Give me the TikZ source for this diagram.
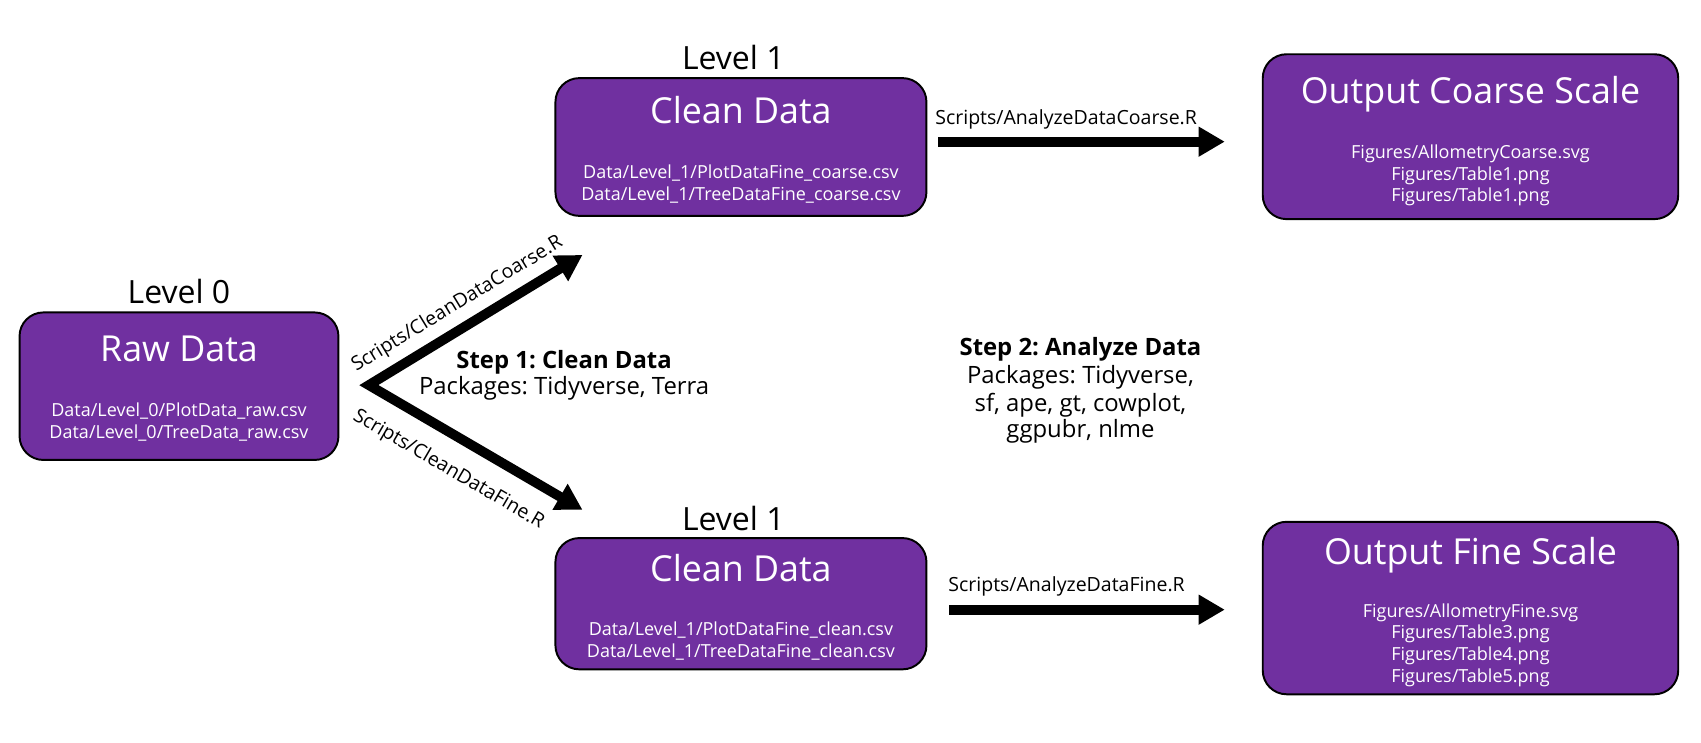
\documentclass[tikz,border=0pt]{standalone}
\usepackage{fontspec}
\setmainfont{Open Sans}
\usetikzlibrary{arrows.meta}
\definecolor{boxpurple}{HTML}{7030A0}
\frenchspacing
\begin{document}
\begin{tikzpicture}[x=1pt,y=-1pt,
  box/.style={draw=black, line width=1.8pt, fill=boxpurple, rounded corners=22pt, inner sep=0pt},
  boxtitle/.style={anchor=base, text=white, font=\fontsize{33}{33}\selectfont, inner sep=0pt},
  files/.style={anchor=base, text=white, font=\fontsize{16.6}{16.6}\selectfont, inner sep=0pt},
  levellabel/.style={anchor=base, font=\fontsize{29.5}{29.5}\selectfont, inner sep=0pt},
  steptext/.style={anchor=base, font=\fontsize{22}{22}\selectfont, inner sep=0pt},
  scriptlabel/.style={font=\fontsize{18}{18}\selectfont, inner sep=0pt},
  bigarrow/.style={line width=9pt, -{Triangle[length=24pt,width=26pt]}},
]
\useasboundingbox (0,0) rectangle (1568,684);

% boxes
\node[box, minimum width=294pt, minimum height=136pt] (raw) at (165,356) {};
\node[box, minimum width=342pt, minimum height=127pt] (cleanc) at (683,135.5) {};
\node[box, minimum width=342pt, minimum height=121pt] (cleanf) at (683,556.5) {};
\node[box, minimum width=383pt, minimum height=152pt] (outc) at (1355.5,126) {};
\node[box, minimum width=383pt, minimum height=159pt] (outf) at (1355.5,560.5) {};

% level labels
\node[levellabel] (lev0) at (165,280) {Level 0};
\node[levellabel] (lev1c) at (676,64) {Level 1};
\node[levellabel] (lev1f) at (676,489) {Level 1};

% box texts
\node[boxtitle] (rawt) at (165,333.5) {Raw Data};
\node[files] (rawf1) at (165,384) {Data/Level\_0/PlotData\_raw.csv};
\node[files] (rawf2) at (165,404) {Data/Level\_0/TreeData\_raw.csv};

\node[boxtitle] (cleanct) at (683,114) {Clean Data};
\node[files] (cleancf1) at (683,165) {Data/Level\_1/PlotDataFine\_coarse.csv};
\node[files] (cleancf2) at (683,185) {Data/Level\_1/TreeDataFine\_coarse.csv};

\node[boxtitle] (cleanft) at (683,536) {Clean Data};
\node[files] (cleanff1) at (683,586) {Data/Level\_1/PlotDataFine\_clean.csv};
\node[files] (cleanff2) at (683,606) {Data/Level\_1/TreeDataFine\_clean.csv};

\node[boxtitle] (outct) at (1355.5,95) {Output Coarse Scale};
\node[files] (outcf1) at (1355.5,146) {Figures/AllometryCoarse.svg};
\node[files] (outcf2) at (1355.5,166) {Figures/Table1.png};
\node[files] (outcf3) at (1355.5,186) {Figures/Table1.png};

\node[boxtitle] (outft) at (1355.5,520) {Output Fine Scale};
\node[files] (outff1) at (1355.5,569) {Figures/AllometryFine.svg};
\node[files] (outff2) at (1355.5,589) {Figures/Table3.png};
\node[files] (outff3) at (1355.5,609) {Figures/Table4.png};
\node[files] (outff4) at (1355.5,629) {Figures/Table5.png};

% step texts
\node[steptext] (s1a) at (520,339.5) {\bfseries Step 1: Clean Data};
\node[steptext] (s1b) at (520,364) {Packages: Tidyverse, Terra};
\node[steptext] (s2a) at (996,328) {\bfseries Step 2: Analyze Data};
\node[steptext] (s2b) at (996,353.5) {Packages: Tidyverse,};
\node[steptext] (s2c) at (996,379) {sf, ape, gt, cowplot,};
\node[steptext] (s2d) at (996,403.5) {ggpubr, nlme};

% arrows
\coordinate (fork) at (340,355);
\coordinate (tipc) at (537,235);
\coordinate (tipf) at (537,470);
\draw[line width=9pt, line join=miter, {Triangle[length=24pt,width=26pt]}-{Triangle[length=24pt,width=26pt]}] (tipc) -- (fork) -- (tipf);
\path (fork) -- (tipc) node[scriptlabel, pos=0.47, above=12pt, sloped] (lblc) {Scripts/CleanDataCoarse.R};
\path (fork) -- (tipf) node[scriptlabel, pos=0.45, below=21pt, sloped] (lblf) {Scripts/CleanDataFine.R};

\coordinate (ac0) at (865,130.6);
\coordinate (ac1) at (1129,130.6);
\draw[bigarrow] (ac0) -- (ac1);
\node[scriptlabel, anchor=base west] (lblac) at (862,114.6) {Scripts/AnalyzeDataCoarse.R};

\coordinate (af0) at (875,562);
\coordinate (af1) at (1129,562);
\draw[bigarrow] (af0) -- (af1);
\node[scriptlabel, anchor=base west] (lblaf) at (874,545.4) {Scripts/AnalyzeDataFine.R};
\end{tikzpicture}
\end{document}
